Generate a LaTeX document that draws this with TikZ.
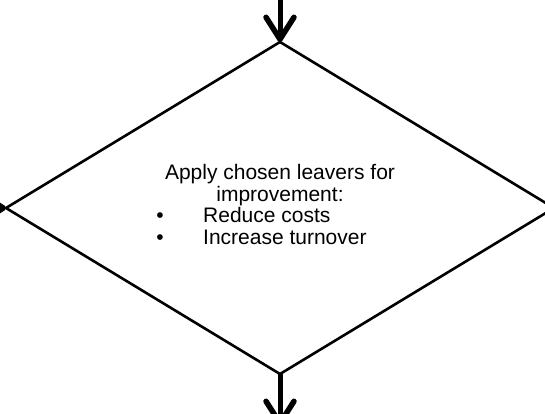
\documentclass[tikz,border=0pt]{standalone}
\usepackage{fontspec}
\setmainfont{Liberation Sans}
\usetikzlibrary{shapes.geometric, arrows.meta}

\tikzset{
  lbl/.style={font=\fontsize{21}{24}\selectfont, inner sep=0pt},
  flow/.style={line width=5pt, -{Straight Barb[length=22pt, width=28pt, line width=5.5pt, round]}},
}

\begin{document}
\begin{tikzpicture}[x=1pt, y=-1pt]
    % 1. Khung hiển thị
    \useasboundingbox (0,0) rectangle (545,414);
    \clip (0,0) rectangle (545,414);

    % 2. Khối quyết định hình thoi
    \node[draw, diamond, line width=2.6pt, inner sep=0pt, outer sep=0pt,
          minimum width=548pt, minimum height=332pt] (dec) at (280,208) {};

    % 3. Các điểm đầu mút nằm ngoài khung
    \coordinate (inT) at (280,-12);
    \coordinate (inL) at (-40,208);
    \coordinate (outB) at (280,426);

    % 4. Mũi tên vào / ra
    \draw[flow] (inT) -- (dec.north);
    \draw[flow] (inL) -- (dec.west);
    \draw[flow] (dec.south) -- (outB);

    % 5. Nội dung
    \node[lbl, anchor=base] (head1) at (280,179) {Apply chosen leavers for};
    \node[lbl, anchor=base] (head2) at (280,201) {improvement:};
    \node[lbl, anchor=base] (dot1) at (160,222) {\textbullet};
    \node[lbl, anchor=base west] (item1) at (203,222) {Reduce costs};
    \node[lbl, anchor=base] (dot2) at (160,244) {\textbullet};
    \node[lbl, anchor=base west] (item2) at (203,244) {Increase turnover};
\end{tikzpicture}
\end{document}
